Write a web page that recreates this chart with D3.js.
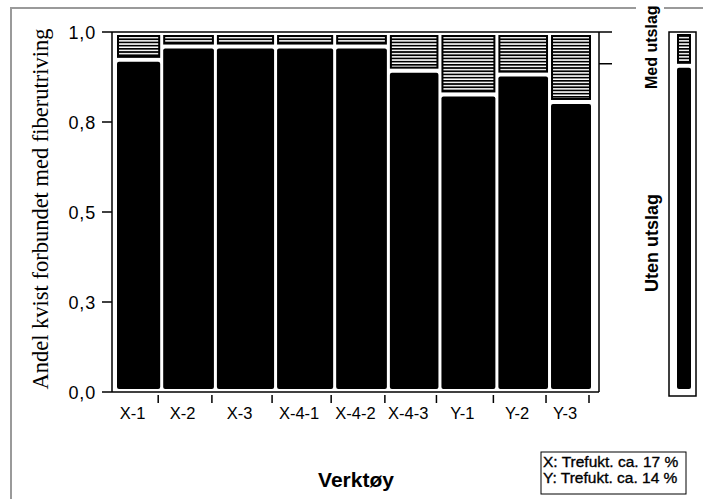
<!DOCTYPE html>
<html>
<head>
<meta charset="utf-8">
<script src="https://cdn.jsdelivr.net/npm/d3@7"></script>
<style>
  body { margin: 0; background: #fff; }
  svg text { font-family: "Liberation Sans", Arial, sans-serif; fill: #000; }
</style>
</head>
<body>
<div id="chart-container"></div>
<script>
// tools on the x axis and how many knots each one had (sets the column width)
var tools = ["X-1", "X-2", "X-3", "X-4-1", "X-4-2", "X-4-3", "Y-1", "Y-2", "Y-3"];
var counts = [43, 50, 56, 55, 50, 48, 53, 49, 40];
// share of knots "Med utslag" per tool (the hatched top part)
var medShare = [0.076, 0.039, 0.039, 0.039, 0.039, 0.106, 0.172, 0.117, 0.193];
var levels = ["Uten utslag", "Med utslag"];
var yTicks = [0, 0.25, 0.5, 0.75, 1.0];
var yTickLabels = ["0,0", "0,3", "0,5", "0,8", "1,0"];
var noteLines = ["X: Trefukt. ca. 17 %", "Y: Trefukt. ca. 14 %"];

function create_chart() {
    var W = 703, H = 499;
    var svg = d3.select("#chart-container")
        .append("svg")
        .attr("width", W)
        .attr("height", H);

    // hatch for the "Med utslag" cells
    var defs = svg.append("defs");
    var pat = defs.append("pattern")
        .attr("id", "hatch")
        .attr("patternUnits", "userSpaceOnUse")
        .attr("width", 8)
        .attr("height", 3.2);
    pat.append("rect").attr("width", 8).attr("height", 3.2).attr("fill", "#fff");
    pat.append("rect").attr("width", 8).attr("height", 1.7).attr("fill", "#000");

    // light grey outer frame
    svg.append("rect")
        .attr("x", 11).attr("y", 8)
        .attr("width", 800).attr("height", 600)
        .attr("fill", "none")
        .attr("stroke", "#9a9a9a")
        .attr("stroke-width", 2);

    // plot box
    var left = 112, right = 599, top = 32, bottom = 392;

    var yScale = d3.scaleLinear().domain([0, 1]).range([bottom, top]);
    var total = d3.sum(counts);
    var xScale = d3.scaleLinear().domain([0, total]).range([115.5, 592.5]);

    var cells = [];
    var cum = 0;
    tools.forEach(function(t, i) {
        cells.push({ tool: t, x0: cum, x1: cum + counts[i], med: medShare[i] });
        cum += counts[i];
    });

    var g = svg.append("g");

    // black part (Uten utslag)
    g.selectAll("rect.uten")
        .data(cells)
        .enter()
        .append("rect")
        .attr("class", "uten")
        .attr("x", d => xScale(d.x0) + 1.5)
        .attr("width", d => xScale(d.x1) - xScale(d.x0) - 3)
        .attr("y", d => yScale(1 - d.med) + 2.5)
        .attr("height", d => (bottom - 3) - (yScale(1 - d.med) + 2.5))
        .attr("rx", 2)
        .attr("fill", "#000");

    // hatched part (Med utslag)
    g.selectAll("rect.med")
        .data(cells)
        .enter()
        .append("rect")
        .attr("class", "med")
        .attr("x", d => xScale(d.x0) + 2.5)
        .attr("width", d => xScale(d.x1) - xScale(d.x0) - 5)
        .attr("y", top + 4)
        .attr("height", d => yScale(1 - d.med) - 2.5 - (top + 4))
        .attr("fill", "url(#hatch)")
        .attr("stroke", "#000")
        .attr("stroke-width", 2);

    // frame lines
    var line = (x1, y1, x2, y2, w) => svg.append("line")
        .attr("x1", x1).attr("y1", y1).attr("x2", x2).attr("y2", y2)
        .attr("stroke", "#000").attr("stroke-width", w || 1.5);
    line(left, top, 612, top);
    line(left, top, left, bottom);
    line(left, bottom, right, bottom);
    line(right, top, right, bottom);

    // left axis
    yTicks.forEach(function(v, i) {
        var y = yScale(v);
        line(left - 10, y, left, y);
        svg.append("text")
            .attr("x", left - 16)
            .attr("y", y + 6.5)
            .attr("text-anchor", "end")
            .style("font-size", "18px")
            .style("letter-spacing", "0.8px")
            .text(yTickLabels[i]);
    });

    // right axis: overall share
    var medAll = d3.sum(cells, d => d.med * (d.x1 - d.x0)) / total;
    line(right, yScale(1 - medAll), 612, yScale(1 - medAll));

    // bottom ticks and labels
    cells.forEach(function(d) {
        var xr = xScale(d.x1) - 3.5;
        line(xr, 395, xr, 403);
        svg.append("text")
            .attr("x", (xScale(d.x0) + xScale(d.x1)) / 2 - 6)
            .attr("y", 419)
            .attr("text-anchor", "middle")
            .style("font-size", "16.5px")
            .text(d.tool);
    });

    // axis titles
    svg.append("text")
        .attr("x", 356)
        .attr("y", 487)
        .attr("text-anchor", "middle")
        .style("font-size", "21px")
        .style("font-weight", "bold")
        .text("Verktøy");

    svg.append("text")
        .attr("transform", "translate(48,209) rotate(-90)")
        .attr("text-anchor", "middle")
        .style("font-family", "'Liberation Serif', 'Times New Roman', serif")
        .style("font-size", "22.5px")
        .text("Andel kvist forbundet med fiberutriving");

    // legend bar: overall split
    var lg = svg.append("g");
    lg.append("rect")
        .attr("x", 669).attr("y", 32)
        .attr("width", 27).attr("height", 364)
        .attr("fill", "#fff").attr("stroke", "#000").attr("stroke-width", 1.5);
    var ly = d3.scaleLinear().domain([0, 1]).range([389, 34]);
    lg.append("rect")
        .attr("x", 677).attr("width", 14)
        .attr("y", ly(1 - medAll) + 2.5)
        .attr("height", 389 - (ly(1 - medAll) + 2.5))
        .attr("rx", 2)
        .attr("fill", "#000");
    lg.append("rect")
        .attr("x", 678).attr("width", 12)
        .attr("y", 35)
        .attr("height", ly(1 - medAll) - 2.5 - 35)
        .attr("fill", "url(#hatch)")
        .attr("stroke", "#000").attr("stroke-width", 2);

    // legend labels
    lg.append("rect")
        .attr("x", 636).attr("y", 0)
        .attr("width", 28).attr("height", 92)
        .attr("fill", "#fff");
    lg.append("text")
        .attr("transform", "translate(657,89) rotate(-90)")
        .attr("text-anchor", "start")
        .style("font-size", "16px")
        .style("font-weight", "bold")
        .text(levels[1]);
    lg.append("text")
        .attr("transform", "translate(658,243) rotate(-90)")
        .attr("text-anchor", "middle")
        .style("font-size", "18px")
        .style("font-weight", "bold")
        .text(levels[0]);

    // note box
    svg.append("rect")
        .attr("x", 541).attr("y", 452)
        .attr("width", 145).attr("height", 42)
        .attr("fill", "#fff").attr("stroke", "#000").attr("stroke-width", 1);
    noteLines.forEach(function(t, i) {
        svg.append("text")
            .attr("x", 543)
            .attr("y", 467 + i * 16)
            .style("font-size", "15.5px")
            .style("stroke", "#000")
            .style("stroke-width", "0.35px")
            .text(t);
    });
}

create_chart();
</script>
</body>
</html>
